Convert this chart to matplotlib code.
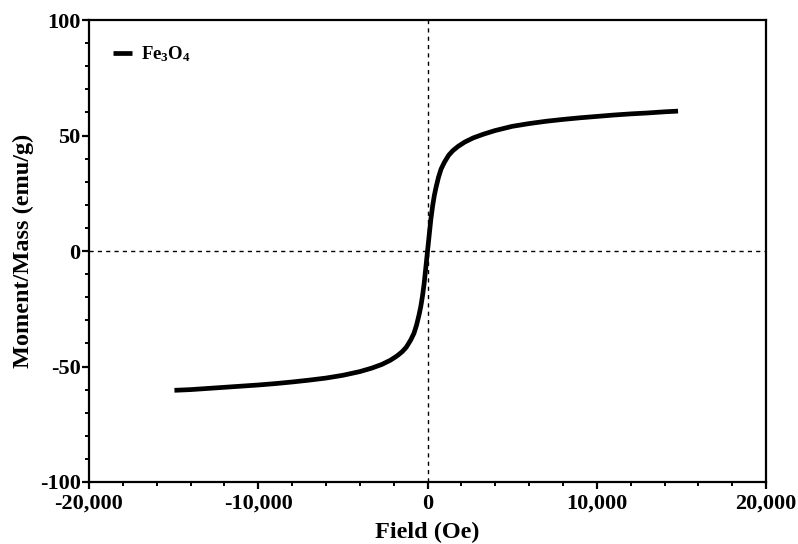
import matplotlib
matplotlib.use("Agg")
import matplotlib.pyplot as plt
from matplotlib.ticker import MultipleLocator, FuncFormatter

plt.rcParams["font.family"] = "Liberation Serif"
plt.rcParams["font.weight"] = "bold"
plt.rcParams["mathtext.fontset"] = "custom"
plt.rcParams["mathtext.rm"] = "Liberation Serif:bold"
plt.rcParams["mathtext.bf"] = "Liberation Serif:bold"

# Magnetisation curve (field in Oe, moment in emu/g)
field_pos = [0, 100, 200, 300, 400, 500, 650, 800, 1000, 1250, 1500, 1800, 2200,
             2700, 3300, 4000, 5000, 6000, 7000, 8000, 9000, 10000, 11000, 12000,
             13000, 14000, 14800]
moment_pos = [0, 7, 14, 19.5, 24, 27.5, 32, 35.5, 38.5, 41.5, 43.5, 45.3, 47.2,
              49, 50.6, 52.2, 54, 55.2, 56.2, 57, 57.7, 58.3, 58.9, 59.4,
              59.8, 60.3, 60.6]
field_neg = [-14950, -14000, -13000, -12000, -11000, -10000, -9000, -8000, -7000,
             -6000, -5000, -4000, -3300, -2700, -2200, -1800, -1500, -1250, -1000,
             -800, -650, -500, -400, -300, -200, -100]
moment_neg = [-60.3, -60.0, -59.5, -59.0, -58.5, -58.0, -57.4, -56.7, -55.9,
              -55.0, -53.8, -52.2, -50.7, -49.1, -47.3, -45.4, -43.6, -41.6, -38.6,
              -35.6, -32.1, -27.6, -24.1, -19.6, -14.1, -7.1]

field = field_neg + field_pos
moment = moment_neg + moment_pos

fig = plt.figure(figsize=(7.98, 5.44), dpi=100)
ax = fig.add_axes([0.1115, 0.114, 0.8485, 0.849])

ax.axhline(0, color="black", lw=1, ls=(0, (3, 3)), zorder=1)
ax.axvline(0, color="black", lw=1, ls=(0, (3, 3)), zorder=1)
ax.plot(field, moment, color="black", lw=3.4, solid_capstyle="butt",
        label=r"$\mathrm{Fe_3O_4}$", zorder=3)

ax.set_xlim(-20000, 20000)
ax.set_ylim(-100, 100)
ax.xaxis.set_major_locator(MultipleLocator(10000))
ax.xaxis.set_minor_locator(MultipleLocator(2000))
ax.yaxis.set_major_locator(MultipleLocator(50))
ax.yaxis.set_minor_locator(MultipleLocator(10))
ax.xaxis.set_major_formatter(FuncFormatter(lambda v, p: f"{int(v):,}"))
ax.yaxis.set_major_formatter(FuncFormatter(lambda v, p: f"{int(v)}"))

for s in ax.spines.values():
    s.set_linewidth(1.6)
ax.tick_params(which="major", length=5, width=1.6, labelsize=16, direction="out")
ax.tick_params(axis="y", which="major", pad=1)
ax.tick_params(which="minor", length=3, width=1.4, direction="out")
for lab in ax.get_xticklabels() + ax.get_yticklabels():
    lab.set_fontweight("bold")

ax.set_xlabel("Field (Oe)", fontsize=17.5, fontweight="bold", labelpad=6)
ax.set_ylabel("Moment/Mass (emu/g)", fontsize=17.5, fontweight="bold", labelpad=4)

leg = ax.legend(loc="upper left", frameon=False, fontsize=13.5, handlelength=1.0,
                handletextpad=0.45, borderaxespad=0.9)

fig.savefig("out.png", dpi=100)
